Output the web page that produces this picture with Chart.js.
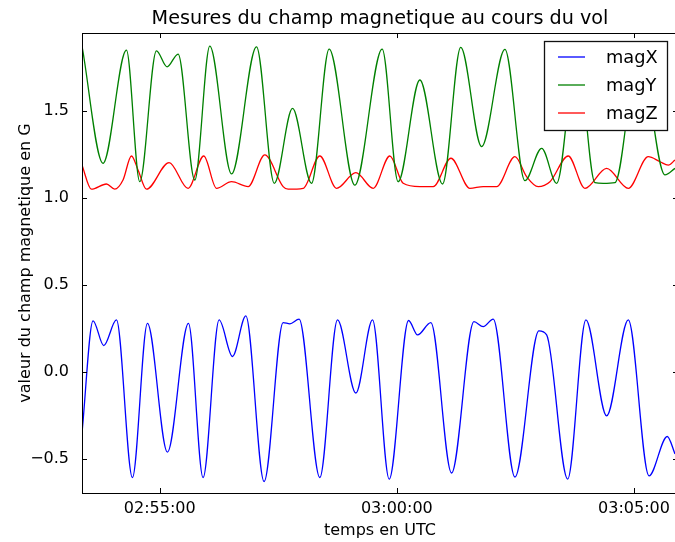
<!DOCTYPE html>
<html>
<head>
<meta charset="utf-8">
<script src="https://cdn.jsdelivr.net/npm/chart.js@4/dist/chart.umd.min.js"></script>
<style>
  html, body { margin: 0; padding: 0; background: #fff; overflow: hidden; }
  #wrap { width: 685px; height: 542px; }
</style>
</head>
<body>
<div id="wrap"><canvas id="chart" width="685" height="542"></canvas></div>
<script>
// time in seconds since 00:00 UTC (02:55:00 = 10500)
let timeX = [10401.6, 10415.6, 10429.1, 10445.2, 10465.4, 10484.4, 10509.7, 10536.3, 10554.8, 10575.1,
    10592.0, 10608.9, 10632.0, 10656.1, 10664.6, 10676.3, 10702.5, 10724.9, 10748.1, 10769.2,
    10790.3, 10814.8, 10826.2, 10843.0, 10869.2, 10897.5, 10909.2, 10921.9, 10949.4, 10979.7,
    10989.5, 11016.1, 11039.2, 11065.4, 11092.8, 11119.0, 11142.1, 11151.9];
let magX = [-0.35, 0.295, 0.153, 0.30, -0.606, 0.28, -0.46, 0.28, -0.606, 0.30,
    0.09, 0.323, -0.629, 0.285, 0.278, 0.305, -0.606, 0.30, -0.12, 0.30,
    -0.615, 0.297, 0.214, 0.285, -0.58, 0.29, 0.262, 0.305, -0.603, 0.237,
    0.214, -0.615, 0.30, -0.251, 0.30, -0.596, -0.37, -0.47];

let timeY = [10402.1, 10428.2, 10457.8, 10474.7, 10495.8, 10509.2, 10523.2, 10544.3, 10563.3, 10590.8,
    10622.4, 10644.9, 10668.0, 10692.0, 10714.3, 10746.8, 10781.4, 10801.6, 10829.1, 10857.8,
    10880.8, 10907.2, 10936.7, 10962.0, 10983.2, 11002.2, 11027.8, 11050.6, 11061.1, 11075.9,
    11106.3, 11139.2, 11151.9];
let magY = [1.862, 1.201, 1.852, 1.095, 1.848, 1.756, 1.829, 1.105, 1.875, 1.14,
    1.871, 1.086, 1.517, 1.086, 1.858, 1.076, 1.858, 1.095, 1.68, 1.082,
    1.868, 1.297, 1.856, 1.101, 1.287, 1.086, 1.85, 1.09, 1.086, 1.09,
    1.85, 1.134, 1.172];

let timeZ = [10401.6, 10413.5, 10432.5, 10443.0, 10453.5, 10464.2, 10472.5, 10483.2, 10511.8, 10535.8,
    10555.7, 10571.8, 10590.8, 10611.8, 10632.9, 10656.1, 10662.4, 10681.4, 10702.5, 10723.7,
    10748.1, 10770.0, 10791.1, 10808.0, 10829.1, 10846.0, 10868.4, 10892.4, 10909.2, 10926.2,
    10949.4, 10964.2, 10978.8, 10993.7, 11016.8, 11038.0, 11065.4, 11092.8, 11118.1, 11132.9,
    11143.4, 11151.9];
let magZ = [1.19, 1.052, 1.082, 1.052, 1.105, 1.243, 1.163, 1.052, 1.205, 1.057,
    1.243, 1.057, 1.095, 1.067, 1.249, 1.067, 1.052, 1.057, 1.243, 1.057,
    1.147, 1.057, 1.243, 1.086, 1.067, 1.067, 1.23, 1.057, 1.067, 1.067,
    1.239, 1.124, 1.067, 1.095, 1.243, 1.057, 1.172, 1.057, 1.239, 1.21,
    1.19, 1.22];

let xTicks = [10500, 10800, 11100];
let yTicks = [-0.5, 0.0, 0.5, 1.0, 1.5];

const font = 'DejaVu Sans';
const pairs = (t, v) => t.map((x, i) => ({x: x, y: v[i]}));
const hms = s => {
    let h = Math.floor(s / 3600), m = Math.floor(s % 3600 / 60), sec = Math.round(s % 60);
    return [h, m, sec].map(n => String(n).padStart(2, '0')).join(':');
};

// matplotlib-like frame, inward ticks on all four sides and boxed legend
const frame = {
    id: 'frame',
    afterDatasetsDraw(chart) {
        let {ctx, chartArea: a, scales} = chart;
        ctx.save();
        ctx.strokeStyle = '#000';
        ctx.lineWidth = 1;
        ctx.beginPath();
        scales.x.ticks.forEach(t => {
            let px = Math.round(scales.x.getPixelForValue(t.value)) + 0.5;
            ctx.moveTo(px, a.bottom); ctx.lineTo(px, a.bottom - 5);
            ctx.moveTo(px, a.top); ctx.lineTo(px, a.top + 5);
        });
        scales.y.ticks.forEach(t => {
            let py = Math.round(scales.y.getPixelForValue(t.value)) + 0.5;
            ctx.moveTo(a.left, py); ctx.lineTo(a.left + 5, py);
            ctx.moveTo(a.right, py); ctx.lineTo(a.right - 5, py);
        });
        ctx.stroke();
        ctx.strokeRect(Math.round(a.left) + 0.5, Math.round(a.top) + 0.5,
            Math.round(a.right - a.left), Math.round(a.bottom - a.top));

        // legend
        let bx = 544.5, by = 41.5, bw = 123, bh = 89;
        ctx.fillStyle = '#fff';
        ctx.fillRect(bx, by, bw, bh);
        ctx.strokeStyle = '#111';
        ctx.lineWidth = 1.3;
        ctx.strokeRect(bx, by, bw, bh);
        ctx.font = '17.8px "' + font + '"';
        ctx.textBaseline = 'middle';
        chart.data.datasets.forEach((ds, i) => {
            let y = 57 + i * 28;
            ctx.strokeStyle = ds.borderColor;
            ctx.lineWidth = 1.3;
            ctx.beginPath();
            ctx.moveTo(558, y); ctx.lineTo(585, y);
            ctx.stroke();
            ctx.fillStyle = '#000';
            ctx.fillText(ds.label, 606, y + 1);
        });
        ctx.restore();
    }
};

const line = (label, color, t, v) => ({
    label: label,
    data: pairs(t, v),
    borderColor: color,
    borderWidth: 1.3,
    pointRadius: 0,
    cubicInterpolationMode: 'monotone',
    fill: false
});

new Chart(document.getElementById('chart'), {
    type: 'line',
    data: {
        datasets: [
            line('magX', '#0000ff', timeX, magX),
            line('magY', '#008000', timeY, magY),
            line('magZ', '#ff0000', timeZ, magZ)
        ]
    },
    options: {
        responsive: false,
        animation: false,
        layout: {padding: {left: 0, right: 7, top: 0, bottom: 0}},
        plugins: {
            legend: {display: false},
            tooltip: {enabled: false},
            title: {
                display: true,
                fullSize: false,
                text: 'Mesures du champ magnetique au cours du vol',
                color: '#000',
                font: {family: font, size: 19.2, weight: 'normal'},
                padding: {top: 7, bottom: 3}
            }
        },
        scales: {
            x: {
                type: 'linear',
                min: 10401.6,
                max: 11155.7,
                grid: {display: false},
                border: {display: false},
                afterBuildTicks: s => { s.ticks = xTicks.map(v => ({value: v})); },
                afterFit: s => { s.height = 49; },
                ticks: {
                    color: '#000',
                    padding: -2,
                    maxRotation: 0,
                    font: {family: font, size: 16},
                    callback: v => hms(v)
                },
                title: {
                    display: true,
                    text: 'temps en UTC',
                    color: '#000',
                    font: {family: font, size: 16},
                    padding: {top: 0, bottom: 2}
                }
            },
            y: {
                min: -0.695,
                max: 1.95,
                grid: {display: false},
                border: {display: false},
                afterBuildTicks: s => { s.ticks = yTicks.map(v => ({value: v})); },
                afterFit: s => { s.width = 82; },
                ticks: {
                    color: '#000',
                    padding: 5,
                    font: {family: font, size: 16},
                    callback: v => v.toFixed(1).replace('-', '\u2212')
                },
                title: {
                    display: true,
                    text: 'valeur du champ magnetique en G',
                    color: '#000',
                    font: {family: font, size: 16},
                    padding: {top: 16, bottom: 0}
                }
            }
        }
    },
    plugins: [frame]
});
</script>
</body>
</html>
